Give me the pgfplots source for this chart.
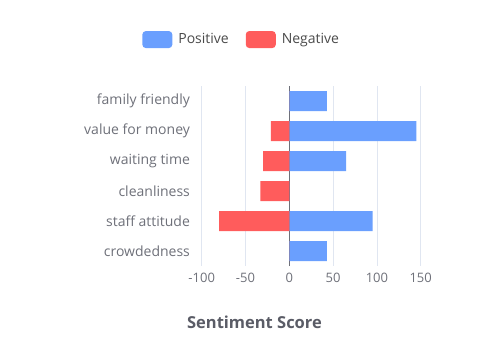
\documentclass[border=0pt]{standalone}
\usepackage{pgfplots}
\pgfplotsset{compat=1.18}
\usepackage{fontspec}
\setmainfont{Open Sans}
\definecolor{posblue}{HTML}{6A9FFE}
\definecolor{negred}{HTML}{FF5C5C}
\definecolor{lblgray}{HTML}{6E7079}
\definecolor{gridgray}{HTML}{E0E6F1}
\definecolor{titlegray}{HTML}{5A5C66}
\definecolor{legtext}{HTML}{4A4A4A}
\begin{document}
\begin{tikzpicture}
\useasboundingbox (0,0) rectangle (500pt,-360pt);
\begin{axis}[
  at={(201.7pt,-86pt)}, anchor=north west,
  scale only axis, width=219pt, height=180pt,
  xmin=-100, xmax=150, ymin=-0.5, ymax=5.5,
  xtick={-100,-50,0,50,100,150},
  xticklabels={-100,-50,0,50,100,150},
  ytick={0,1,2,3,4,5},
  yticklabels={crowdedness,staff attitude,cleanliness,waiting time,value for money,family friendly},
  axis line style={draw=none},
  tick style={draw=none},
  xmajorgrids, grid style={gridgray, line width=0.8pt},
  extra x ticks={0}, extra x tick labels={},
  extra x tick style={grid style={lblgray, line width=1pt}},
  ticklabel style={font=\fontsize{13}{15}\selectfont, text=lblgray},
  yticklabel style={font=\fontsize{14}{16}\selectfont, text=lblgray, xshift=-4pt},
  xticklabel style={yshift=-4pt},
  xlabel={Sentiment Score},
  xlabel style={at={(axis description cs:0.241,-0.311)}, anchor=center, font=\fontsize{16.5}{19}\selectfont\bfseries, text=titlegray},
  legend style={at={(axis description cs:-0.272,1.258)}, anchor=west, draw=none, fill=none,
    inner sep=0pt,
    font=\fontsize{14}{16}\selectfont, text=legtext,
    /tikz/every even column/.style={column sep=15pt}},
  legend columns=2,
  xbar, bar width=20pt, bar shift=0pt,
]
\addplot[fill=posblue, draw=none,
  legend image code/.code={\fill[posblue, rounded corners=3.5pt] (0pt,-8.5pt) rectangle (30pt,8.5pt); \path (34pt,0pt);}]
  coordinates {(43,5) (145,4) (65,3) (0,2) (95,1) (43,0)};
\addlegendentry{Positive}
\addplot[fill=negred, draw=none,
  legend image code/.code={\fill[negred, rounded corners=3.5pt] (0pt,-8.5pt) rectangle (30pt,8.5pt); \path (34pt,0pt);}]
  coordinates {(0,5) (-21,4) (-30,3) (-33,2) (-80,1) (0,0)};
\addlegendentry{Negative}
\end{axis}
\end{tikzpicture}
\end{document}
